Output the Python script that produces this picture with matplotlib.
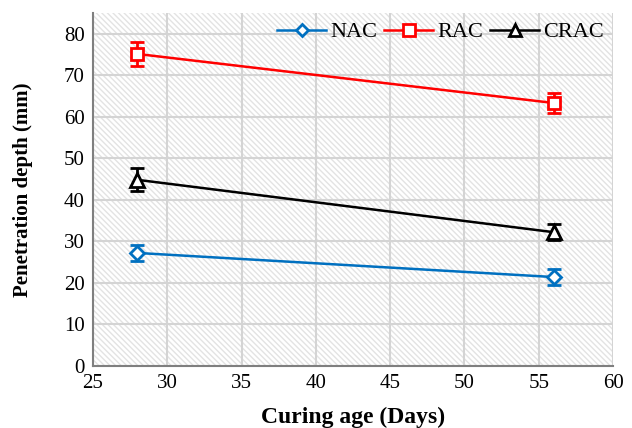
import matplotlib.pyplot as plt
from matplotlib.lines import Line2D

plt.rcParams['font.family'] = ['Liberation Serif', 'DejaVu Serif']
plt.rcParams['hatch.linewidth'] = 1.0

ages = [28, 56]
nac = [27.2, 21.4]
rac = [75.1, 63.3]
crac = [44.8, 32.2]
nac_err = [2.0, 2.0]
rac_err = [2.8, 2.3]
crac_err = [2.8, 2.0]

series = [
    ("NAC", nac, nac_err, '#0070c0', 'D', 7),
    ("RAC", rac, rac_err, '#ff0000', 's', 9),
    ("CRAC", crac, crac_err, '#000000', '^', 10),
]

fig = plt.figure(figsize=(6.32, 4.28), dpi=100)
ax = fig.add_axes([0.147, 0.145, 0.823, 0.825])

# hatched background like the original
ax.add_patch(plt.Rectangle((0, 0), 1, 1, transform=ax.transAxes, facecolor='white',
                           edgecolor='#e3e3e3', linewidth=0, hatch='\\' * 6, zorder=0))

handles = []
for name, vals, err, color, marker, ms in series:
    ax.errorbar(ages, vals, yerr=err, color=color, marker=marker, markersize=ms,
                markerfacecolor='white', markeredgecolor=color, markeredgewidth=2,
                linewidth=1.8, elinewidth=2, capsize=5, capthick=2, zorder=3)
    handles.append(Line2D([], [], color=color, marker=marker, markersize=ms - 1,
                          markerfacecolor='white', markeredgecolor=color,
                          markeredgewidth=2, linewidth=1.8, label=name))

ax.set_xlim(25, 60)
ax.set_ylim(0, 85)
ax.set_xticks(range(25, 61, 5))
ax.set_yticks(range(0, 81, 10))
ax.grid(True, color='#d4d4d4', linewidth=1.5, zorder=1)
ax.set_axisbelow(True)
ax.tick_params(length=0, labelsize=15, pad=6)
for s in ['top', 'right']:
    ax.spines[s].set_visible(False)
for s in ['left', 'bottom']:
    ax.spines[s].set_color('#7f7f7f')
    ax.spines[s].set_linewidth(1.5)

ax.set_xlabel("Curing age (Days)", fontsize=17, fontweight='bold', labelpad=10)
ax.set_ylabel("Penetration depth (mm)", fontsize=15, fontweight='bold', labelpad=22)

ax.legend(handles=handles, loc='upper right', ncol=3, frameon=False, fontsize=16,
          handlelength=2.2, handletextpad=0.2, columnspacing=0.3,
          borderaxespad=0.0, bbox_to_anchor=(1.0, 1.0))

fig.savefig("out.png", dpi=100)
